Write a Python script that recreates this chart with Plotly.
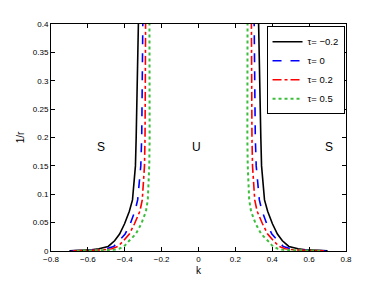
import plotly.graph_objects as go

# 1/r values (shared sample heights)
inv_r = [0.0003, 0.001, 0.002, 0.004, 0.008, 0.018, 0.03, 0.048, 0.07, 0.09,
         0.12, 0.15, 0.2, 0.3, 0.4]

# |k| of the stability boundary for each tau (branch at k<0 and k>0 are mirror images)
k_tau_m02 = [0.70, 0.62, 0.58, 0.54, 0.49, 0.455, 0.428, 0.401, 0.375, 0.358,
             0.348, 0.342, 0.338, 0.333, 0.326]
k_tau_0 = [0.69, 0.60, 0.55, 0.50, 0.46, 0.43, 0.398, 0.37, 0.345, 0.33,
           0.32, 0.313, 0.308, 0.304, 0.302]
k_tau_02 = [0.68, 0.58, 0.52, 0.47, 0.437, 0.407, 0.375, 0.347, 0.318, 0.305,
            0.297, 0.293, 0.29, 0.288, 0.287]
k_tau_05 = [0.66, 0.54, 0.46, 0.43, 0.404, 0.376, 0.34, 0.31, 0.285, 0.275,
            0.27, 0.267, 0.265, 0.264, 0.266]

series = [
    ("τ= −0.2", k_tau_m02, "black", "solid", 1.6),
    ("τ= 0", k_tau_0, "rgb(0,0,255)", "dash", 1.6),
    ("τ= 0.2", k_tau_02, "rgb(255,0,0)", "dashdot", 1.6),
    ("τ= 0.5", k_tau_05, "rgb(60,190,60)", "dot", 2.0),
]

region_labels = ["S", "U", "S"]
region_k = [-0.53, -0.01, 0.71]
region_y = [0.183, 0.183, 0.183]

x_ticks = [-0.8, -0.6, -0.4, -0.2, 0, 0.2, 0.4, 0.6, 0.8]
y_ticks = [0, 0.05, 0.1, 0.15, 0.2, 0.25, 0.3, 0.35, 0.4]

fig = go.Figure()
for name, kv, color, dash, w in series:
    # left branch
    fig.add_trace(go.Scatter(x=[-v for v in kv], y=inv_r, mode="lines", name=name,
                             line=dict(color=color, dash=dash, width=w),
                             legendgroup=name, showlegend=True))
    # right branch
    fig.add_trace(go.Scatter(x=kv, y=inv_r, mode="lines", name=name,
                             line=dict(color=color, dash=dash, width=w),
                             legendgroup=name, showlegend=False))

for t, xk, yv in zip(region_labels, region_k, region_y):
    fig.add_annotation(x=xk, y=yv, text=t, showarrow=False,
                       font=dict(size=12, color="black"))

font_family = "Liberation Sans, Arial, sans-serif"
fig.update_layout(
    width=374, height=279,
    margin=dict(l=42, r=36, t=13, b=34),
    paper_bgcolor="white", plot_bgcolor="white",
    font=dict(family=font_family, size=8, color="black"),
    showlegend=True,
    legend=dict(x=0.995, y=0.99, xanchor="right", yanchor="top",
                bordercolor="black", borderwidth=1, bgcolor="white",
                font=dict(size=9.5), tracegroupgap=0, itemwidth=30),
)
fig.update_xaxes(range=[-0.8, 0.8], tickvals=x_ticks,
                 ticktext=[("−" if v < 0 else "") + (f"{abs(v):g}") for v in x_ticks],
                 ticks="inside", ticklen=4, tickcolor="black",
                 showline=True, linecolor="black", linewidth=1, mirror="ticks",
                 showgrid=False, zeroline=False,
                 title=dict(text="k", font=dict(size=10), standoff=4))
fig.update_yaxes(range=[0, 0.4], tickvals=y_ticks,
                 ticktext=[f"{v:g}" for v in y_ticks],
                 ticks="inside", ticklen=4, tickcolor="black",
                 showline=True, linecolor="black", linewidth=1, mirror="ticks",
                 showgrid=False, zeroline=False,
                 title=dict(text="1/r", font=dict(size=10), standoff=6))

fig.write_html("out.html")
